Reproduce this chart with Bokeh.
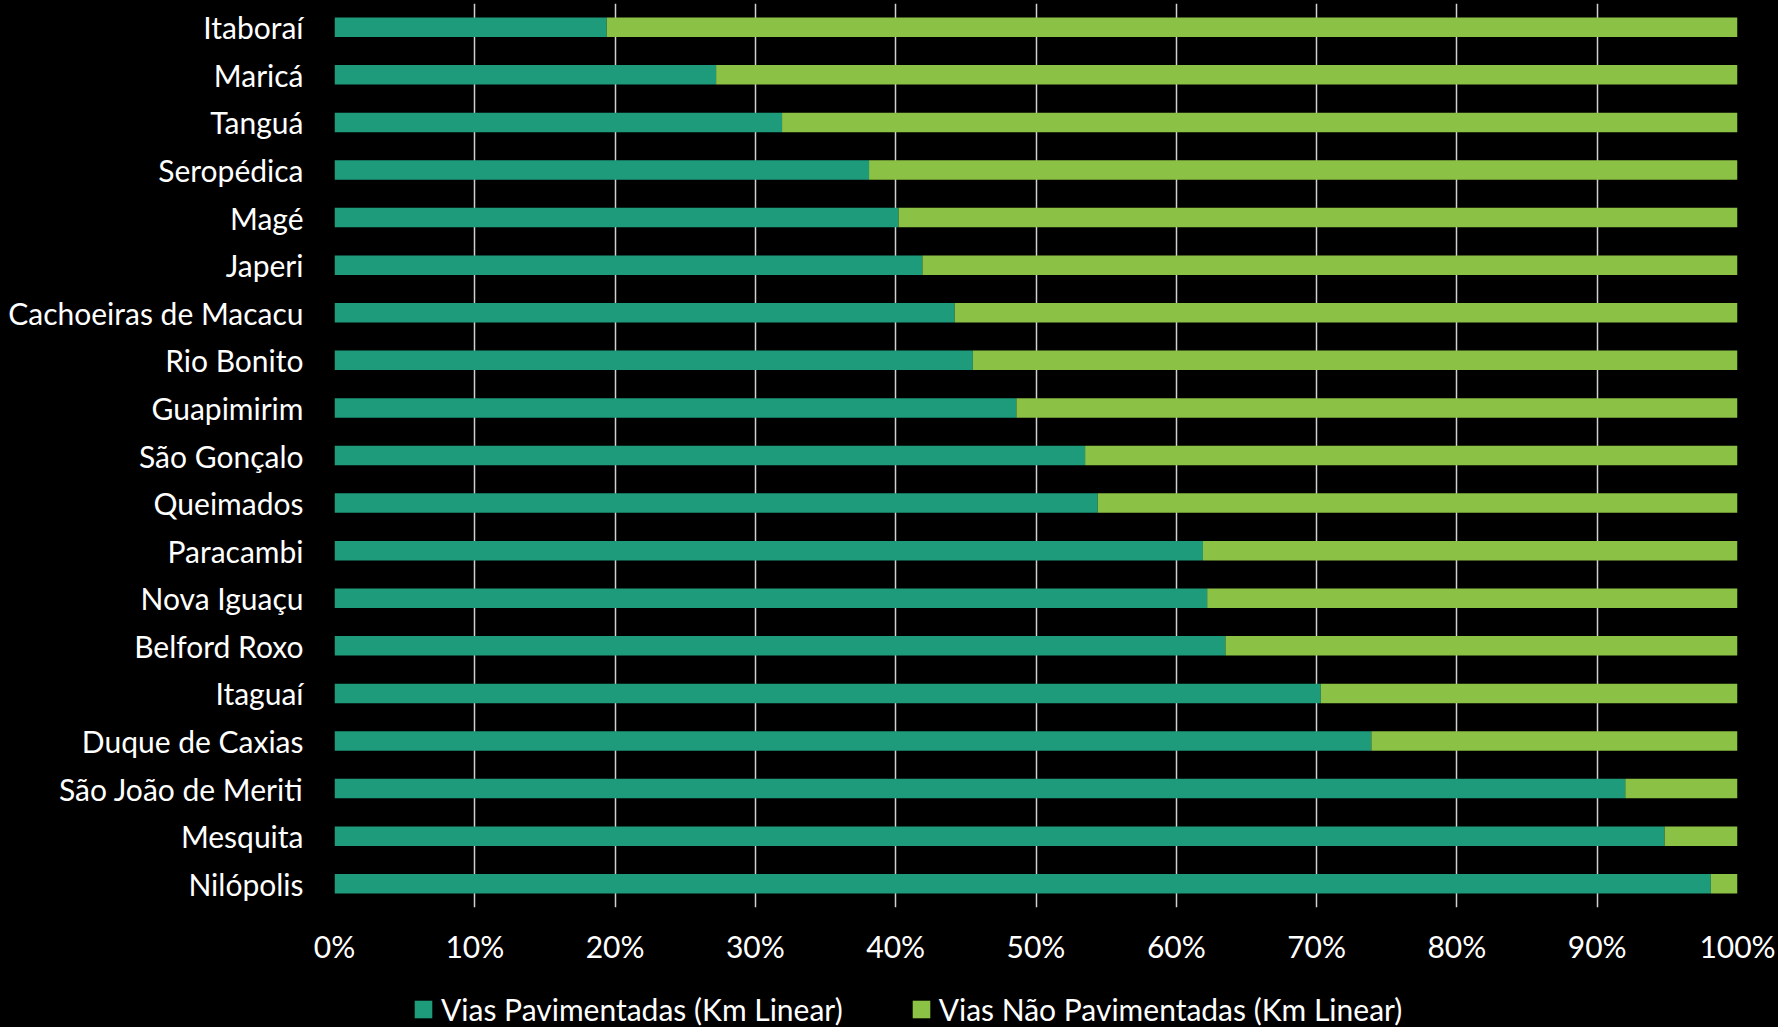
from bokeh.plotting import figure
from bokeh.layouts import column
from bokeh.models import (ColumnDataSource, FactorRange, Range1d, FixedTicker,
                          PrintfTickFormatter, Legend, LegendItem)
from bokeh.embed import file_html
from bokeh.resources import INLINE

# Share of paved vs. unpaved roads (km linear) by municipality, top to bottom
cities = ["Itaboraí", "Maricá", "Tanguá", "Seropédica", "Magé", "Japeri",
          "Cachoeiras de Macacu", "Rio Bonito", "Guapimirim", "São Gonçalo",
          "Queimados", "Paracambi", "Nova Iguaçu", "Belford Roxo", "Itaguaí",
          "Duque de Caxias", "São João de Meriti", "Mesquita", "Nilópolis"]
pavimentadas = [19.4, 27.2, 31.9, 38.1, 40.2, 41.9, 44.2, 45.5, 48.6, 53.5,
                54.4, 61.9, 62.2, 63.5, 70.3, 73.9, 92.0, 94.8, 98.1]
nao_pavimentadas = [80.6, 72.8, 68.1, 61.9, 59.8, 58.1, 55.8, 54.5, 51.4, 46.5,
                    45.6, 38.1, 37.8, 36.5, 29.7, 26.1, 8.0, 5.2, 1.9]
series_labels = ["Vias Pavimentadas (Km Linear)", "Vias Não Pavimentadas (Km Linear)"]
x_ticks = list(range(0, 101, 10))

TEAL = "#1E9B7B"
GREEN = "#8BC145"
COLORS = [TEAL, GREEN]
BG = "#000000"
FONT = "Lato"
FS = "30px"
W = 1778
MAIN_H = 968
LEG_H = 59
BORDER_L = 334
BORDER_R = 41

src = ColumnDataSource(dict(city=cities, pav=pavimentadas, nao=nao_pavimentadas))

p = figure(width=W, height=MAIN_H, output_backend="svg", toolbar_location=None,
           y_range=FactorRange(factors=list(reversed(cities)), range_padding=0),
           x_range=Range1d(0, 100),
           min_border_left=BORDER_L, min_border_right=BORDER_R, min_border_top=3,
           min_border_bottom=MAIN_H - 907)
p.background_fill_color = BG
p.border_fill_color = BG
p.outline_line_color = None

p.hbar_stack(["pav", "nao"], y="city", height=0.41, color=COLORS,
             line_color=None, source=src)

# grid
p.ygrid.grid_line_color = None
p.xgrid.ticker = FixedTicker(ticks=x_ticks)
p.xgrid.grid_line_color = "#D0D0D0"
p.xgrid.grid_line_width = 1.5

# x axis
xa = p.xaxis[0]
xa.ticker = FixedTicker(ticks=x_ticks)
xa.formatter = PrintfTickFormatter(format="%d%%")
xa.axis_line_color = None
xa.major_tick_line_color = None
xa.minor_tick_line_color = None
xa.major_label_text_color = "white"
xa.major_label_text_font = FONT
xa.major_label_text_font_size = FS
xa.major_label_standoff = 14

# y axis
ya = p.yaxis[0]
ya.axis_line_color = None
ya.major_tick_line_color = None
ya.minor_tick_line_color = None
ya.major_label_text_color = "white"
ya.major_label_text_font = FONT
ya.major_label_text_font_size = FS
ya.major_label_standoff = 25

# legend strip under the chart; its series renderers stay hidden and only
# supply the legend swatches
q = figure(width=W, height=LEG_H, output_backend="svg", toolbar_location=None,
           x_range=Range1d(0, 100),
           y_range=FactorRange(factors=list(reversed(cities)), range_padding=0),
           min_border_left=BORDER_L, min_border_right=BORDER_R,
           min_border_top=0, min_border_bottom=0)
q.background_fill_color = BG
q.border_fill_color = BG
q.outline_line_color = None
q.axis.visible = False
q.grid.visible = False
swatches = q.hbar_stack(["pav", "nao"], y="city", height=0.41, color=COLORS,
                        line_color=None, source=src, visible=False)

lg = Legend(items=[LegendItem(label=series_labels[i], renderers=[swatches[i]])
                   for i in range(2)],
            orientation="horizontal", location=(78, 0),
            background_fill_alpha=0, border_line_alpha=0, padding=0, margin=0,
            spacing=67, glyph_width=22, glyph_height=22, label_height=22,
            label_standoff=7, label_text_color="white", label_text_font=FONT,
            label_text_font_size=FS, inactive_fill_alpha=0)
q.add_layout(lg)

layout = column(p, q, spacing=0)
html = file_html(layout, INLINE)
page_style = "<style>html, body { margin: 0; padding: 0; background-color: #000000; }</style>"
html = html.replace("</head>", page_style + "\n</head>", 1)
open("out.html", "w").write(html)
